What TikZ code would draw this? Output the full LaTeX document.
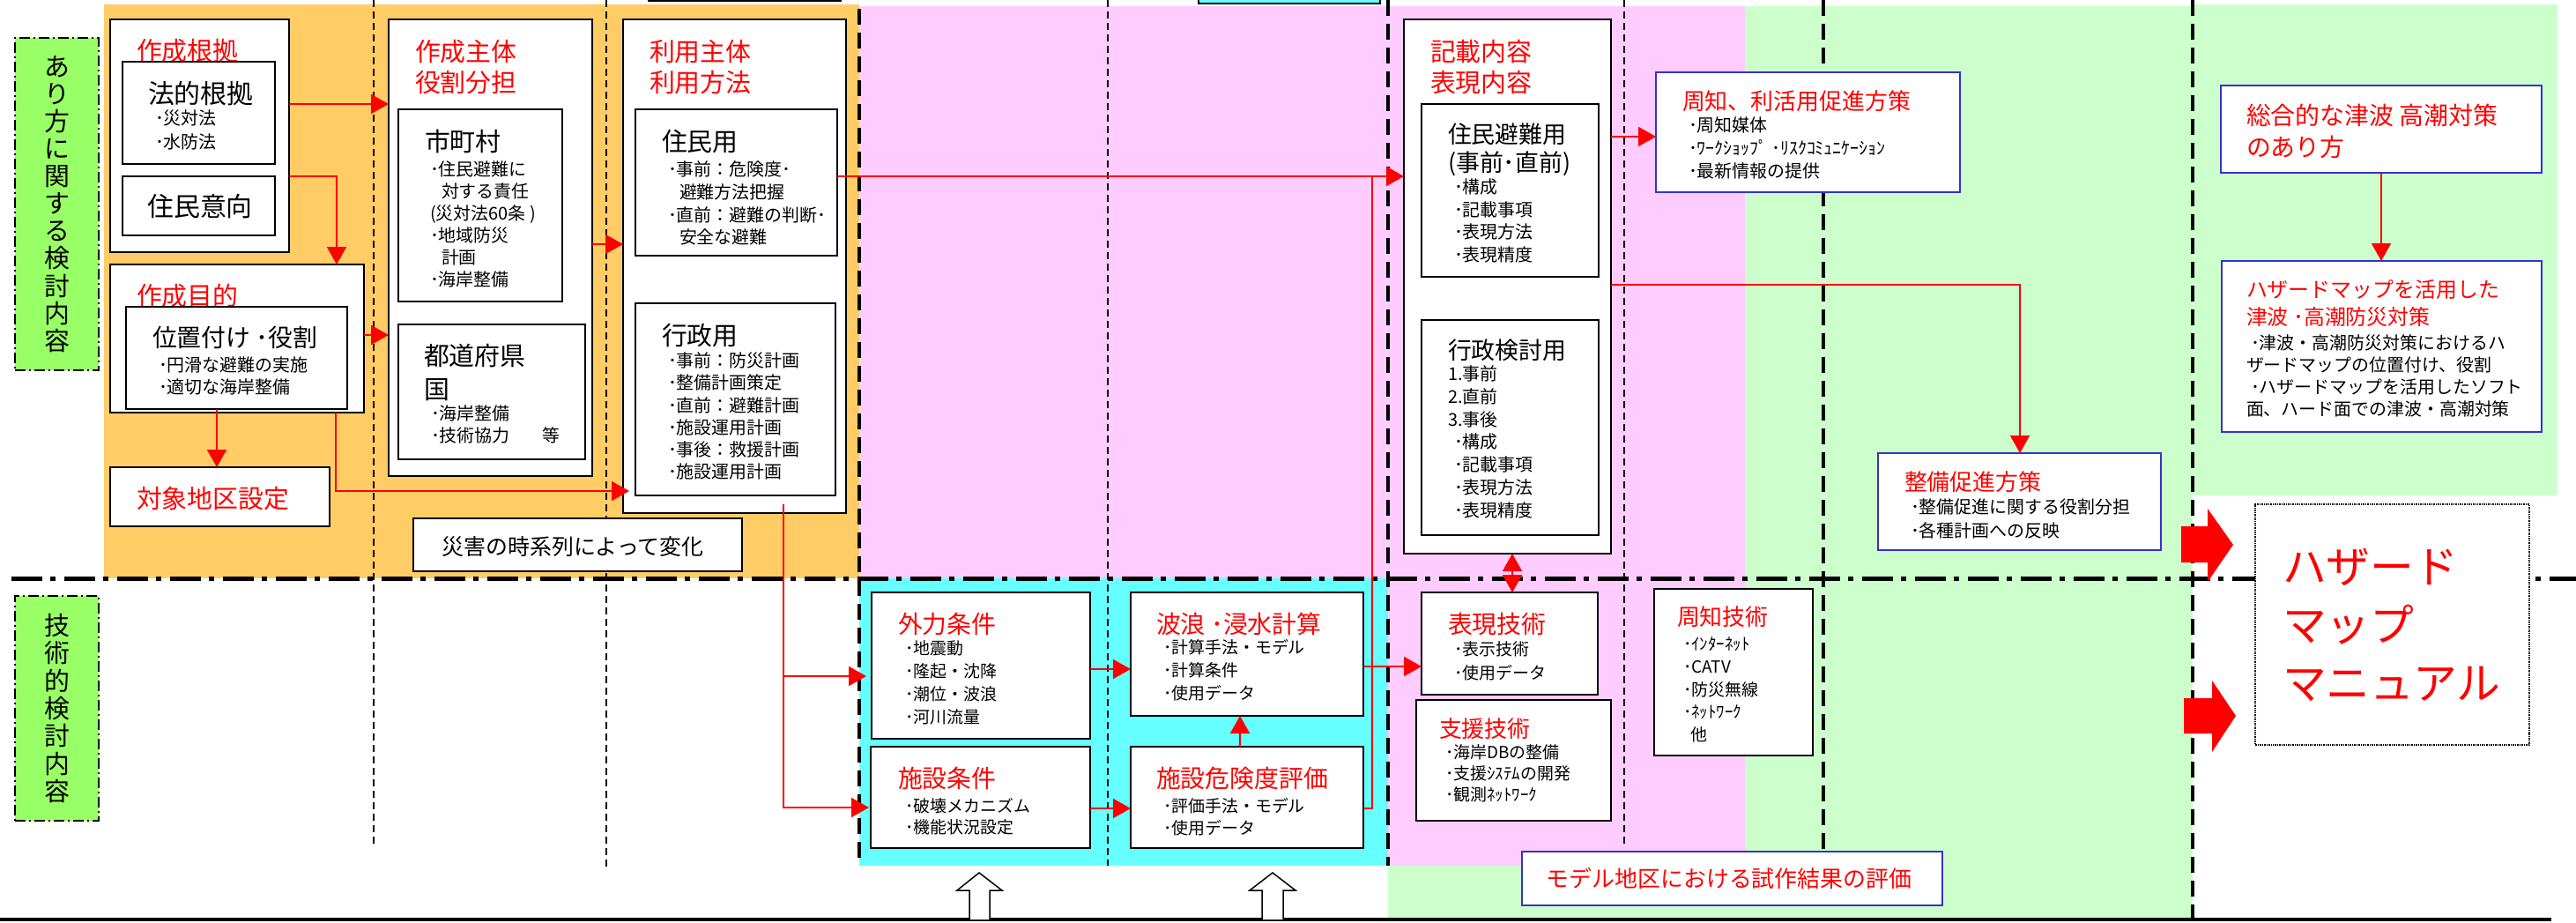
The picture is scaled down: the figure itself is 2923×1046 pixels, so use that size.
\documentclass[tikz,border=0pt]{standalone}
\usepackage{fontspec}
\setmainfont{Noto Sans CJK JP}
\usetikzlibrary{arrows.meta,calc}
\definecolor{org}{HTML}{FFCC66}
\definecolor{pnk}{HTML}{FFCCFF}
\definecolor{grn}{HTML}{CCFFCC}
\definecolor{cyn}{HTML}{66FFFF}
\definecolor{lbl}{HTML}{99FF66}
\definecolor{blu}{HTML}{3333CC}
\definecolor{rd}{HTML}{FF0000}
\newcommand\mkbox[6]{\node[#1, minimum width={((#5)-(#3))*1bp}, minimum height={((#6)-(#4))*1bp}] (#2) at ({((#3)+(#5))/2},{((#4)+(#6))/2}) {};}
\tikzset{
 box/.style={draw, line width=2.5bp, fill=white, inner sep=0, outer sep=0},
 bbox/.style={draw=blu, line width=2.5bp, fill=white, inner sep=0, outer sep=0},
 txt/.style={inner sep=0, outer sep=0, anchor=north west, align=left},
 big/.style={txt, font=\fontsize{29}{35}\selectfont},
 ttl/.style={txt, text=rd, font=\fontsize{29}{35}\selectfont},
 sm/.style={txt, font=\fontsize{20}{25.3}\selectfont},
 thindash/.style={line width=1.8bp, dash pattern=on 8bp off 5bp},
 thickdash/.style={line width=4bp, dash pattern=on 18bp off 9bp},
 dashdot/.style={line width=5bp, dash pattern=on 35bp off 9bp on 6bp off 10bp},
 lblbox/.style={draw, fill=lbl, line width=2bp, dash pattern=on 12bp off 4bp on 2bp off 4bp, inner sep=0, outer sep=0},
 ra/.style={draw=rd, line width=2bp, -{Triangle[length=20bp,width=22bp]}},
 rl/.style={draw=rd, line width=1.6bp},
}
\begin{document}
\begin{tikzpicture}[x=1bp,y=-1bp]
\useasboundingbox (0,0) rectangle (2923,1046);
\fill[white] (0,0) rectangle (2923,1046);
% backgrounds
\fill[org] (118,5) rectangle (975,656);
\fill[grn] (1575,7) rectangle (2488,1043);
\fill[grn] (2488,5) rectangle (2902,562);
\fill[pnk] (975,7) rectangle (1980,982);
\fill[cyn] (975,656) rectangle (1575,982);
% partial boxes at the top edge
\draw[line width=2bp, fill=cyn] (1360,-5) rectangle (1566,4);
\draw[line width=2bp] (735,0.8) -- (955,0.8);
% column separators
\draw[thindash] (424,0) -- (424,961);
\draw[thindash] (688,0) -- (688,983);
\draw[thindash] (1257,0) -- (1257,982);
\draw[thindash] (1843,0) -- (1843,960);
\draw[thickdash] (975,10) -- (975,982);
\draw[thickdash] (1575,0) -- (1575,982);
\draw[thickdash] (2069,0) -- (2069,965);
\draw[thickdash] (2488,0) -- (2488,1043);
\draw[dashdot] (13,656) -- (2923,656);
\draw[line width=4bp] (0,1043) -- (2895,1043);
% side labels
\mkbox{lblbox}{lab1}{17}{43}{112}{420}
\node[align=center, inner sep=0, font=\fontsize{29}{31.2}\selectfont] at (lab1.center) {あ\\り\\方\\に\\関\\す\\る\\検\\討\\内\\容};
\mkbox{lblbox}{lab2}{17}{676}{112}{931}
\node[align=center, inner sep=0, font=\fontsize{29}{31.4}\selectfont] at (lab2.center) {技\\術\\的\\検\\討\\内\\容};
% ---- column 1
\mkbox{box}{konkyo}{125}{22}{328}{286}
\node[ttl] (t1) at (155,44) {作成根拠};
\mkbox{box}{hoteki}{139}{70}{312}{186}
\node[big, font=\fontsize{30}{35}\selectfont] (t2) at (168,92) {法的根拠};
\node[sm, font=\fontsize{20}{27}\selectfont] (t3) at (176,125) {･災対法\\･水防法};
\mkbox{box}{ikou}{139}{200}{312}{267}
\node[inner sep=0, font=\fontsize{30}{35}\selectfont] (t4) at (227,234) {住民意向};
\mkbox{box}{mokuteki}{125}{300}{413}{468}
\node[ttl] (t5) at (155,322) {作成目的};
\mkbox{box}{ichi}{143}{348}{394}{464}
\node[big, font=\fontsize{28}{35}\selectfont] (t6) at (173,370) {位置付け ･役割};
\node[sm] (t7) at (180,405) {･円滑な避難の実施\\･適切な海岸整備};
\mkbox{box}{taisho}{125}{530}{374}{597}
\node[ttl] (t8) at (155,552) {対象地区設定};
% ---- column 2
\mkbox{box}{sakusei}{441}{22}{672}{540}
\node[ttl] (t9) at (471,45) {作成主体\\役割分担};
\mkbox{box}{shicho}{452}{124}{638}{342}
\node[big] (t10) at (482,147) {市町村};
\node[sm, font=\fontsize{20}{25}\selectfont] (t11) at (488,183) {･住民避難に\\\hspace*{13bp}対する責任\\(災対法60条 )\\･地域防災\\\hspace*{13bp}計画\\･海岸整備};
\mkbox{box}{todo}{452}{368}{664}{521}
\node[big, font=\fontsize{29}{38}\selectfont] (t12) at (481,390) {都道府県\\国};
\node[sm] (t13) at (489,460) {･海岸整備\\･技術協力\hspace*{37bp}等};
\mkbox{box}{saigai}{469}{588}{842}{648}
\node[inner sep=0, font=\fontsize{25}{30}\selectfont] (t14) at (650,620) {災害の時系列によって変化};
% ---- column 3
\mkbox{box}{riyou}{707}{22}{960}{582}
\node[ttl] (t15) at (737,45) {利用主体\\利用方法};
\mkbox{box}{jumin}{721}{124}{950}{290}
\node[big] (t16) at (751,147) {住民用};
\node[sm, font=\fontsize{20}{25.7}\selectfont] (t17) at (758,183) {･事前：危険度･\\\hspace*{13bp}避難方法把握\\･直前：避難の判断･\\\hspace*{13bp}安全な避難};
\mkbox{box}{gyosei}{721}{344}{948}{562}
\node[big] (t18) at (751,367) {行政用};
\node[sm, font=\fontsize{20}{25.2}\selectfont] (t19) at (758,400) {･事前：防災計画\\･整備計画策定\\･直前：避難計画\\･施設運用計画\\･事後：救援計画\\･施設運用計画};
% ---- column 记载
\mkbox{box}{kisai}{1593}{22}{1828}{628}
\node[ttl] (t20) at (1623,45) {記載内容\\表現内容};
\mkbox{box}{hinan}{1613}{118}{1814}{314}
\node[big, font=\fontsize{27}{32}\selectfont] (t21) at (1643,140) {住民避難用\\(事前･直前)};
\node[sm, font=\fontsize{20}{25.7}\selectfont] (t22) at (1650,203) {･構成\\･記載事項\\･表現方法\\･表現精度};
\mkbox{box}{gyoken}{1613}{363}{1814}{607}
\node[big, font=\fontsize{27}{32}\selectfont] (t23) at (1643,385) {行政検討用};
\node[sm, font=\fontsize{20}{25.8}\selectfont] (t24) at (1643,415) {1.事前\\2.直前\\3.事後\\\hspace*{7bp}･構成\\\hspace*{7bp}･記載事項\\\hspace*{7bp}･表現方法\\\hspace*{7bp}･表現精度};
% ---- right side
\mkbox{bbox}{shuchi}{1879}{82}{2224}{218}
\node[ttl, font=\fontsize{26}{30}\selectfont] (t25) at (1909,103) {周知、利活用促進方策};
\node[sm, font=\fontsize{20}{26}\selectfont] (t26) at (1916,133) {･周知媒体\\･ﾜｰｸｼｮｯﾌﾟ ･ﾘｽｸｺﾐｭﾆｹｰｼｮﾝ\\･最新情報の提供};
\mkbox{bbox}{seibi}{2131}{514}{2452}{624}
\node[ttl, font=\fontsize{26}{30}\selectfont] (t27) at (2161,535) {整備促進方策};
\node[sm, font=\fontsize{20}{27}\selectfont] (t28) at (2168,566) {･整備促進に関する役割分担\\･各種計画への反映};
\mkbox{bbox}{sogo}{2520}{97}{2884}{196}
\node[ttl, font=\fontsize{28}{36}\selectfont] (t29) at (2549,118) {総合的な津波 高潮対策\\のあり方};
\mkbox{bbox}{katsuyo}{2521}{296}{2884}{490}
\node[ttl, font=\fontsize{24}{31}\selectfont] (t30) at (2549,318) {ハザードマップを活用した\\津波 ･高潮防災対策};
\node[sm, font=\fontsize{20}{25}\selectfont] (t31) at (2549,380) {\hspace*{5bp}･津波・高潮防災対策におけるハ\\ザードマップの位置付け、役割\\\hspace*{5bp}･ハザードマップを活用したソフト\\面、ハード面での津波・高潮対策};
% ---- lower band
\mkbox{box}{gairyoku}{989}{672}{1237}{838}
\node[ttl, font=\fontsize{28}{32}\selectfont] (t32) at (1019,695) {外力条件};
\node[sm, font=\fontsize{19}{26}\selectfont] (t33) at (1027,727) {･地震動\\･隆起・沈降\\･潮位・波浪\\･河川流量};
\mkbox{box}{shisetsu}{988}{847}{1237}{962}
\node[ttl, font=\fontsize{28}{32}\selectfont] (t34) at (1019,870) {施設条件};
\node[sm, font=\fontsize{19}{25}\selectfont] (t35) at (1027,905) {･破壊メカニズム\\･機能状況設定};
\mkbox{box}{haro}{1283}{672}{1547}{812}
\node[ttl, font=\fontsize{28}{32}\selectfont] (t36) at (1312,695) {波浪 ･浸水計算};
\node[sm, font=\fontsize{19}{26.5}\selectfont] (t37) at (1320,725) {･計算手法・モデル\\･計算条件\\･使用データ};
\mkbox{box}{kiken}{1283}{847}{1547}{962}
\node[ttl, font=\fontsize{28}{32}\selectfont] (t38) at (1312,870) {施設危険度評価};
\node[sm, font=\fontsize{19}{25}\selectfont] (t39) at (1320,905) {･評価手法・モデル\\･使用データ};
\mkbox{box}{hyogen}{1613}{672}{1813}{788}
\node[ttl, font=\fontsize{28}{32}\selectfont] (t40) at (1643,695) {表現技術};
\node[sm, font=\fontsize{19}{27}\selectfont] (t41) at (1650,728) {･表示技術\\･使用データ};
\mkbox{box}{shien}{1607}{794}{1828}{931}
\node[ttl, font=\fontsize{26}{30}\selectfont] (t42) at (1633,815) {支援技術};
\node[sm, font=\fontsize{19}{24}\selectfont] (t43) at (1640,845) {･海岸DBの整備\\･支援ｼｽﾃﾑの開発\\･観測ﾈｯﾄﾜｰｸ};
\mkbox{box}{shuchigi}{1877}{668}{2057}{857}
\node[ttl, font=\fontsize{26}{30}\selectfont] (t44) at (1903,688) {周知技術};
\node[sm, font=\fontsize{19}{26}\selectfont] (t45) at (1910,722) {･ｲﾝﾀｰﾈｯﾄ\\･CATV\\･防災無線\\･ﾈｯﾄﾜｰｸ\\\hspace*{8bp}他};
\mkbox{bbox}{model}{1727}{966}{2204}{1027}
\node[inner sep=0, text=rd, font=\fontsize{26}{30}\selectfont] (t46) at (1962,997) {モデル地区における試作結果の評価};
% manual box
\node[draw, densely dotted, line width=1.5bp, fill=white, inner sep=0, outer sep=0, minimum width=311bp, minimum height=273bp] (manual) at (2714.5,708.5) {};
\node[ttl, font=\fontsize{50}{66}\selectfont] (t47) at (2590,622) {ハザード\\マップ\\マニュアル};
% block arrows
\fill[rd] (2475,597) -- (2505,597) -- (2505,577) -- (2534,618) -- (2505,660) -- (2505,638) -- (2475,638) -- cycle;
\fill[rd] (2478,792) -- (2510,792) -- (2510,772) -- (2537,812) -- (2510,853) -- (2510,832) -- (2478,832) -- cycle;
% hollow arrows
\draw[line width=1.5bp, fill=white] (1100,1043) -- (1100,1010) -- (1086,1010) -- (1111,990) -- (1137,1010) -- (1123,1010) -- (1123,1043);
\draw[line width=1.5bp, fill=white] (1432,1043) -- (1432,1010) -- (1418,1010) -- (1444,990) -- (1470,1010) -- (1456,1010) -- (1456,1043);
% helper coordinates
\coordinate (y118) at (0,118);
\coordinate (y155) at (0,155);
\coordinate (y200) at (0,200);
\coordinate (y277) at (0,277);
\coordinate (y323) at (0,323);
\coordinate (y380) at (0,380);
\coordinate (y557) at (0,557);
\coordinate (y756) at (0,756);
\coordinate (y759) at (0,759);
\coordinate (y767) at (0,767);
\coordinate (y916) at (0,916);
\coordinate (y917) at (0,917);
\coordinate (x246) at (246,0);
\coordinate (x381) at (381,0);
\coordinate (x382) at (382,0);
\coordinate (x1407) at (1407,0);
\coordinate (x1716) at (1716,0);
\coordinate (x2292) at (2292,0);
\coordinate (x2702) at (2702,0);
\coordinate (j1) at (1557,200);
\coordinate (j2) at (889,572);
% connectors
\draw[ra] (konkyo.east |- y118) -- (sakusei.west |- y118);
\draw[ra] (konkyo.east |- y200) -| (mokuteki.north -| x382);
\draw[ra] (mokuteki.east |- y380) -- (sakusei.west |- y380);
\draw[ra] (ichi.south -| x246) -- (taisho.north -| x246);
\draw[ra, shorten >=7bp] (mokuteki.south -| x381) |- (gyosei.west |- y557);
\draw[ra] (sakusei.east |- y277) -- (riyou.west |- y277);
\draw[ra] (jumin.east |- y200) -- (kisai.west |- y200);
\draw[rl] (j1) |- (kiken.east |- y917);
\draw[ra, shorten >=6bp] (j2) |- (gairyoku.west |- y767);
\draw[ra, shorten >=2bp] (j2) |- (shisetsu.west |- y916);
\draw[ra] (gairyoku.east |- y759) -- (haro.west |- y759);
\draw[ra] (shisetsu.east |- y917) -- (kiken.west |- y917);
\draw[ra] (kiken.north -| x1407) -- (haro.south -| x1407);
\draw[ra] (haro.east |- y756) -- (hyogen.west |- y756);
\draw[draw=rd, line width=2bp, {Triangle[length=20bp,width=22bp]}-{Triangle[length=20bp,width=22bp]}] (kisai.south -| x1716) -- (hyogen.north -| x1716);
\draw[ra] (kisai.east |- y155) -- (shuchi.west |- y155);
\draw[ra] (kisai.east |- y323) -| (seibi.north -| x2292);
\draw[ra] (sogo.south -| x2702) -- (katsuyo.north -| x2702);
\end{tikzpicture}
\end{document}
